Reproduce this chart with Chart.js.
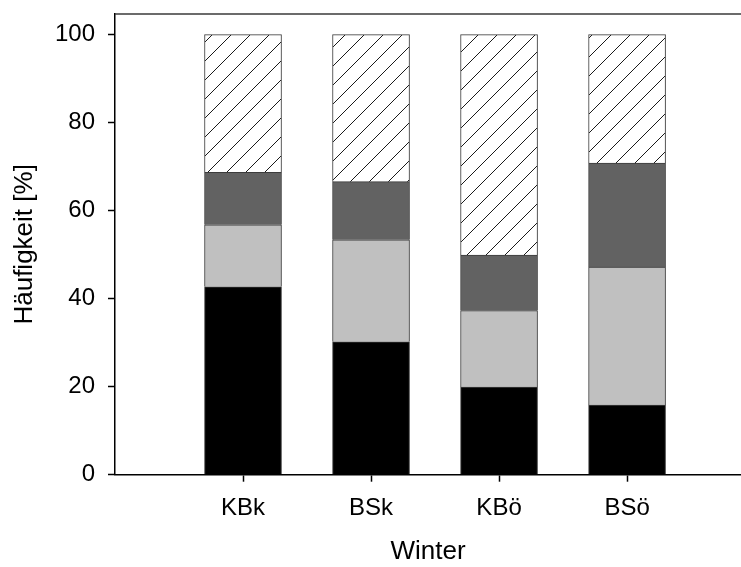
<!DOCTYPE html>
<html>
<head>
<meta charset="utf-8">
<script src="https://cdn.jsdelivr.net/npm/chart.js@4.4.1/dist/chart.umd.min.js"></script>
<style>
  html, body { margin: 0; padding: 0; background: #ffffff; }
  #wrap { width: 741px; height: 567px; position: relative; }
</style>
</head>
<body>
<div id="wrap"><canvas id="c" width="741" height="567"></canvas></div>
<script>
// Winter categories (x axis)
const categories = ['KBk', 'BSk', 'KBö', 'BSö'];

// Stacked shares per category, in percent (bottom to top)
const blackShare    = [42.7, 30.2, 19.9, 15.8];
const lightShare    = [14.1, 23.2, 17.4, 31.4];
const darkShare     = [11.9, 13.2, 12.6, 23.6];
const hatchedShare  = [31.3, 33.4, 50.1, 29.2];

// Y axis tick values
const yTicks = [0, 20, 40, 60, 80, 100];

const FONT = '"Liberation Sans", Arial, Helvetica, sans-serif';

// Diagonal hatch fill for the top segment
function makeHatch() {
  const s = 19;
  const p = document.createElement('canvas');
  p.width = s; p.height = s;
  const g = p.getContext('2d');
  g.fillStyle = '#ffffff';
  g.fillRect(0, 0, s, s);
  g.strokeStyle = '#1a1a1a';
  g.lineWidth = 1;
  g.beginPath();
  g.moveTo(0, s); g.lineTo(s, 0);
  g.moveTo(-2, 2); g.lineTo(2, -2);
  g.moveTo(s - 2, s + 2); g.lineTo(s + 2, s - 2);
  g.stroke();
  return document.getElementById('c').getContext('2d').createPattern(p, 'repeat');
}

const toPoints = arr => arr.map((v, i) => ({ x: i + 1, y: v }));

function ds(label, values, fill) {
  return {
    label,
    data: toPoints(values),
    backgroundColor: fill,
    borderColor: '#3c3c3c',
    borderWidth: 1,
    borderSkipped: 'start',
    barThickness: 77
  };
}

// Frame line along the top of the plot area
const topFrame = {
  id: 'topFrame',
  afterDraw(chart) {
    const { ctx, chartArea } = chart;
    ctx.save();
    ctx.strokeStyle = '#3a3a3a';
    ctx.lineWidth = 1.5;
    ctx.beginPath();
    ctx.moveTo(chartArea.left, chartArea.top);
    ctx.lineTo(chartArea.right, chartArea.top);
    ctx.stroke();
    ctx.restore();
  }
};

new Chart(document.getElementById('c'), {
  type: 'bar',
  data: {
    datasets: [
      ds('schwarz', blackShare, '#000000'),
      ds('hellgrau', lightShare, '#c0c0c0'),
      ds('dunkelgrau', darkShare, '#626262'),
      ds('schraffiert', hatchedShare, makeHatch())
    ]
  },
  options: {
    responsive: false,
    animation: false,
    layout: { padding: { top: 14, right: 0, left: 0, bottom: 0 } },
    plugins: {
      legend: { display: false },
      tooltip: { enabled: false }
    },
    scales: {
      x: {
        type: 'linear',
        stacked: true,
        offset: false,
        min: 0,
        max: 4.89,
        afterBuildTicks: s => { s.ticks = categories.map((_, i) => ({ value: i + 1 })); },
        afterFit: s => { s.height = 92.3; s.paddingLeft = 0; s.paddingRight = 0; },
        ticks: {
          callback: v => categories[v - 1],
          color: '#000000',
          font: { family: FONT, size: 24 },
          padding: 12,
          maxRotation: 0,
          autoSkip: false
        },
        grid: {
          offset: false,
          drawOnChartArea: false,
          drawTicks: true,
          tickLength: 7,
          tickColor: '#000000',
          tickWidth: 1.5
        },
        border: { display: true, color: '#000000', width: 1.5 },
        title: {
          display: true,
          text: 'Winter',
          color: '#000000',
          font: { family: FONT, size: 26 },
          padding: { top: 0, bottom: 0 }
        }
      },
      y: {
        stacked: true,
        min: 0,
        max: 104.7,
        afterBuildTicks: s => { s.ticks = yTicks.map(v => ({ value: v })); },
        afterFit: s => { s.width = 115; s.paddingTop = 0; s.paddingBottom = 0; },
        ticks: {
          color: '#000000',
          font: { family: FONT, size: 24 },
          padding: 13
        },
        grid: {
          drawOnChartArea: false,
          drawTicks: true,
          tickLength: 7,
          tickColor: '#000000',
          tickWidth: 1.5
        },
        border: { display: true, color: '#000000', width: 1.5 },
        title: {
          display: true,
          text: 'Häufigkeit [%]',
          color: '#000000',
          font: { family: FONT, size: 26 },
          padding: { top: 9, bottom: 0 }
        }
      }
    }
  },
  plugins: [topFrame]
});
</script>
</body>
</html>
